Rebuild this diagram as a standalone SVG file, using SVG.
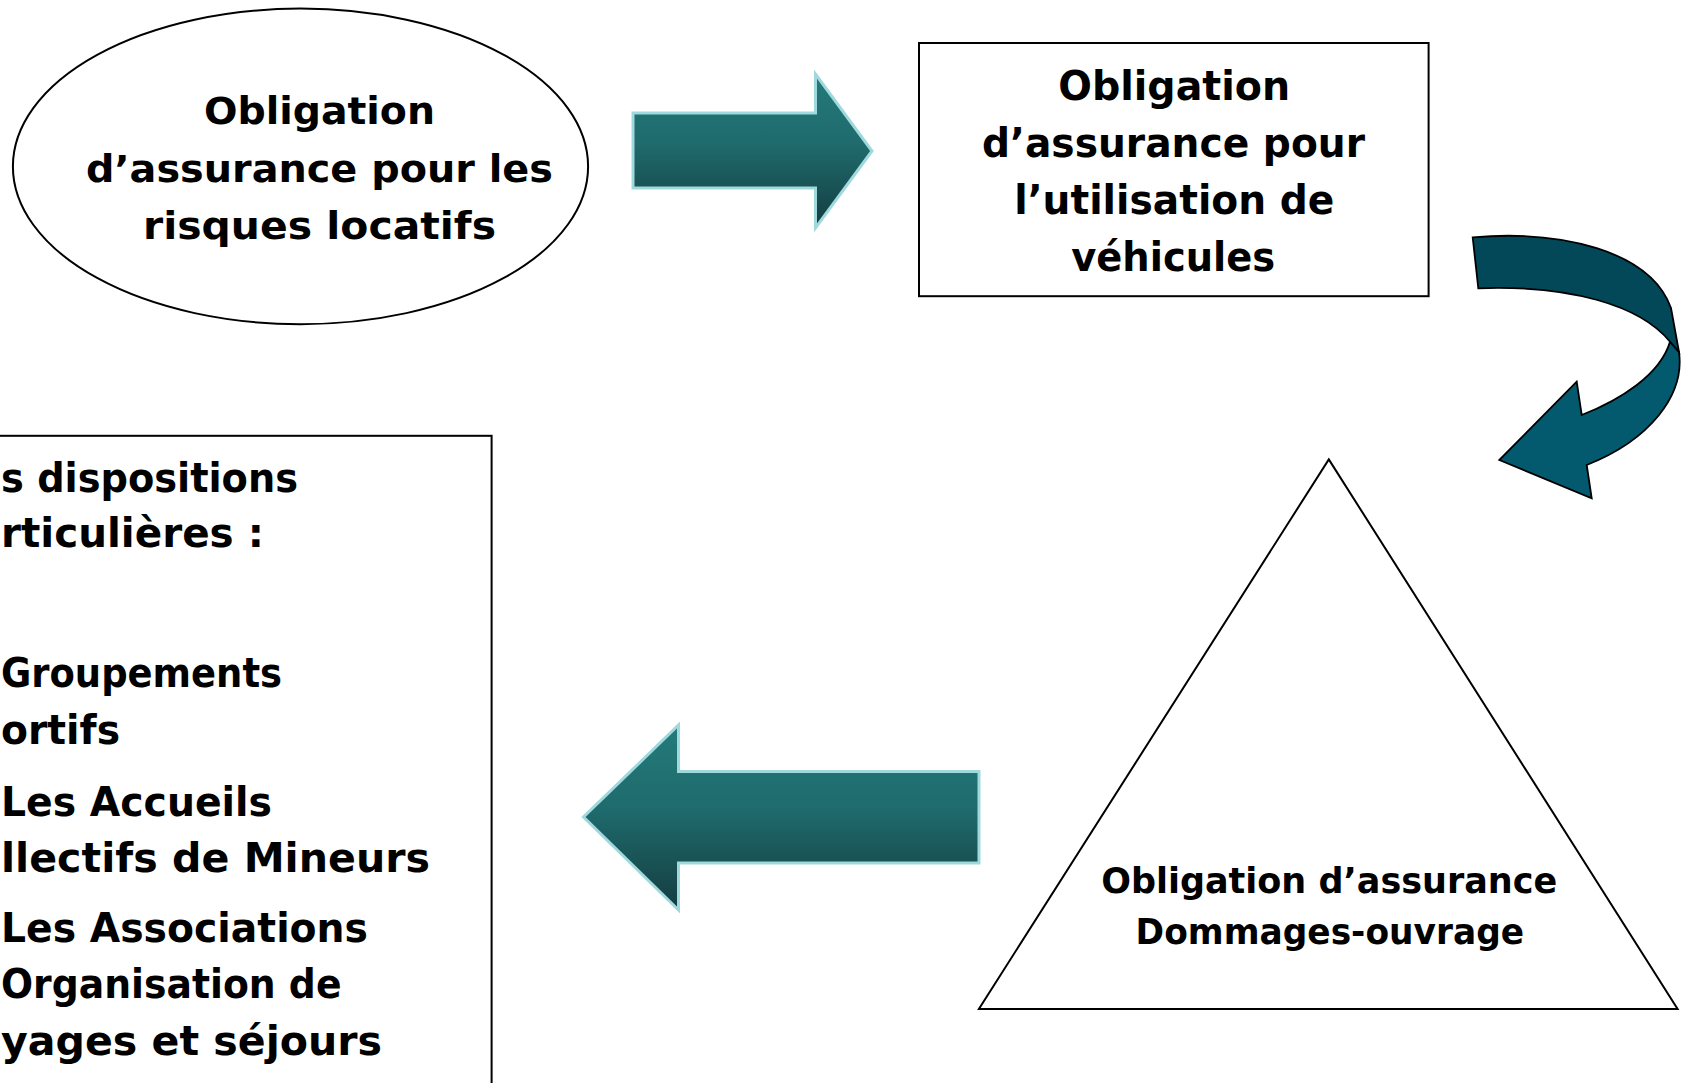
<svg xmlns="http://www.w3.org/2000/svg" width="1683" height="1083" viewBox="0 0 1683 1083">
<defs>
<style>
.t{font-family:"DejaVu Sans","Liberation Sans",sans-serif;font-weight:bold;fill:#000}
.shape{fill:#fff;stroke:#000;stroke-width:2}
.flat{fill:url(#teal);stroke:#9fd9dd;stroke-width:3;stroke-linejoin:miter}
</style>
<linearGradient id="teal" x1="0" y1="0" x2="0" y2="1">
<stop offset="0" stop-color="#247a7a"/>
<stop offset="0.45" stop-color="#1f6b6d"/>
<stop offset="1" stop-color="#143c3f"/>
</linearGradient>
</defs>
<rect width="1683" height="1083" fill="#fff"/>

<g id="node-locatifs">
<ellipse class="shape" cx="300.5" cy="166.4" rx="287.6" ry="157.8" stroke-width="1.5"/>
<text class="t" font-size="37" x="204" y="124" textLength="231" lengthAdjust="spacingAndGlyphs">Obligation</text>
<text class="t" font-size="37" x="86" y="182" textLength="467" lengthAdjust="spacingAndGlyphs">d’assurance pour les</text>
<text class="t" font-size="37" x="143" y="239" textLength="353" lengthAdjust="spacingAndGlyphs">risques locatifs</text>
</g>

<g id="node-vehicules">
<rect class="shape" x="919" y="43" width="509.6" height="253.2"/>
<text class="t" font-size="41" x="1058.3" y="100" textLength="231.8" lengthAdjust="spacingAndGlyphs">Obligation</text>
<text class="t" font-size="41" x="982" y="157" textLength="383" lengthAdjust="spacingAndGlyphs">d’assurance pour</text>
<text class="t" font-size="41" x="1014.3" y="214" textLength="320" lengthAdjust="spacingAndGlyphs">l’utilisation de</text>
<text class="t" font-size="41" x="1071.2" y="271" textLength="204" lengthAdjust="spacingAndGlyphs">véhicules</text>
</g>

<g id="node-dommages">
<polygon class="shape" points="1328.8,459.4 1677.6,1008.9 978.9,1008.9"/>
<text class="t" font-size="35" x="1101.2" y="893" textLength="456" lengthAdjust="spacingAndGlyphs">Obligation d’assurance</text>
<text class="t" font-size="35" x="1135.6" y="944" textLength="388.5" lengthAdjust="spacingAndGlyphs">Dommages-ouvrage</text>
</g>

<g id="node-dispositions">
<rect class="shape" x="-5" y="435.8" width="496.6" height="700"/>
<text class="t" font-size="40" x="1" y="491.6" textLength="297" lengthAdjust="spacingAndGlyphs">s dispositions</text>
<text class="t" font-size="40" x="1" y="547.4" textLength="263" lengthAdjust="spacingAndGlyphs">rticulières :</text>
<text class="t" font-size="40" x="1" y="687" textLength="281" lengthAdjust="spacingAndGlyphs">Groupements</text>
<text class="t" font-size="40" x="1" y="743.8" textLength="119" lengthAdjust="spacingAndGlyphs">ortifs</text>
<text class="t" font-size="40" x="1" y="815.7" textLength="271" lengthAdjust="spacingAndGlyphs">Les Accueils</text>
<text class="t" font-size="40" x="1" y="871.5" textLength="429" lengthAdjust="spacingAndGlyphs">llectifs de Mineurs</text>
<text class="t" font-size="40" x="1" y="942.4" textLength="367" lengthAdjust="spacingAndGlyphs">Les Associations</text>
<text class="t" font-size="40" x="1" y="998.2" textLength="340.5" lengthAdjust="spacingAndGlyphs">Organisation de</text>
<text class="t" font-size="40" x="1" y="1055" textLength="381" lengthAdjust="spacingAndGlyphs">yages et séjours</text>
</g>

<g id="connectors">
<polygon class="flat" points="633,113 815.5,113 815.5,74 872,151 815.5,228 815.5,188 633,188"/>
<g id="curved-arrow" stroke="#000" stroke-width="1.8" stroke-linejoin="miter">
<path fill="#03596e" d="M1679,352 C1685,395 1650,440 1586.7,465 L1591.7,498.3 L1499.3,460 L1576.7,381.7 L1581.7,415 C1620,400 1660,375 1670,341.7 Z"/>
<path fill="#034859" d="M1472.7,237.3 C1560,230 1650,250 1671,308 L1679,352 L1670,341.7 C1640,305 1570,285 1478.3,288.3 Z"/>
</g>
<polygon class="flat" points="979,771.5 678.5,771.5 678.5,725 583.5,817 678.5,910 678.5,863 979,863"/>
</g>
</svg>
